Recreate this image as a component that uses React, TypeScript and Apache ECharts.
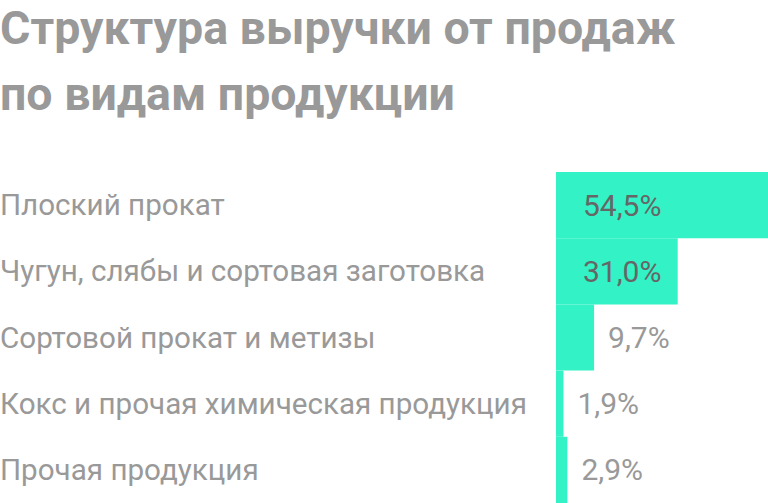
import React, { useEffect, useRef } from 'react';
import * as echarts from 'echarts';

const titleLines = ['Структура выручки от продаж', 'по видам продукции'];
const categories = [
  'Плоский прокат',
  'Чугун, слябы и сортовая заготовка',
  'Сортовой прокат и метизы',
  'Кокс и прочая химическая продукция',
  'Прочая продукция',
];
const shares = [54.5, 31.0, 9.7, 1.9, 2.9];
// labels that sit inside the bar (the two big ones)
const insideLabel = [true, true, false, false, false];

const BAR = '#33f2c5';
const GREY = '#999999';
const DARK = '#666666';

const fmt = (v: number) => v.toFixed(1).replace('.', ',') + '%';

const App: React.FC = () => {
  const chartRef = useRef<HTMLDivElement>(null);

  useEffect(() => {
    document.body.style.margin = '0';
    if (!chartRef.current) return;
    const chart = echarts.init(chartRef.current, null, { renderer: 'svg' });

    const option: any = {
      animation: false,
      backgroundColor: '#ffffff',
      textStyle: { fontFamily: 'Roboto, sans-serif' },
      title: {
        text: titleLines.join('\n'),
        left: 0,
        top: -5,
        padding: 0,
        textStyle: {
          fontFamily: 'Roboto, sans-serif',
          fontSize: 46.5,
          fontWeight: 'bold',
          lineHeight: 66,
          color: GREY,
        },
      },
      grid: {
        left: 556,
        right: 0,
        top: 172,
        bottom: 0,
        containLabel: false,
        outerBoundsMode: 'none',
      },
      xAxis: {
        type: 'value',
        min: 0,
        max: 54,
        show: false,
      },
      yAxis: {
        type: 'category',
        data: categories,
        inverse: true,
        axisLine: { show: false },
        axisTick: { show: false },
        splitLine: { show: false },
        axisLabel: {
          align: 'left',
          margin: 556,
          color: GREY,
          fontSize: 29.6,
          fontFamily: 'Roboto, sans-serif',
        },
      },
      series: [
        {
          type: 'bar',
          barCategoryGap: 0,
          clip: true,
          itemStyle: { color: BAR },
          data: shares.map((v, i) => ({
            value: v,
            label: insideLabel[i]
              ? { show: true, position: 'insideLeft', distance: 27, color: DARK }
              : { show: true, position: 'right', distance: 14, color: GREY },
          })),
          label: {
            fontSize: 30,
            fontFamily: 'Roboto, sans-serif',
            formatter: (p: any) => fmt(p.value),
          },
        },
      ],
    };

    chart.setOption(option);
    return () => chart.dispose();
  }, []);

  return <div ref={chartRef} style={{ width: 768, height: 503 }} />;
};

export default App;
